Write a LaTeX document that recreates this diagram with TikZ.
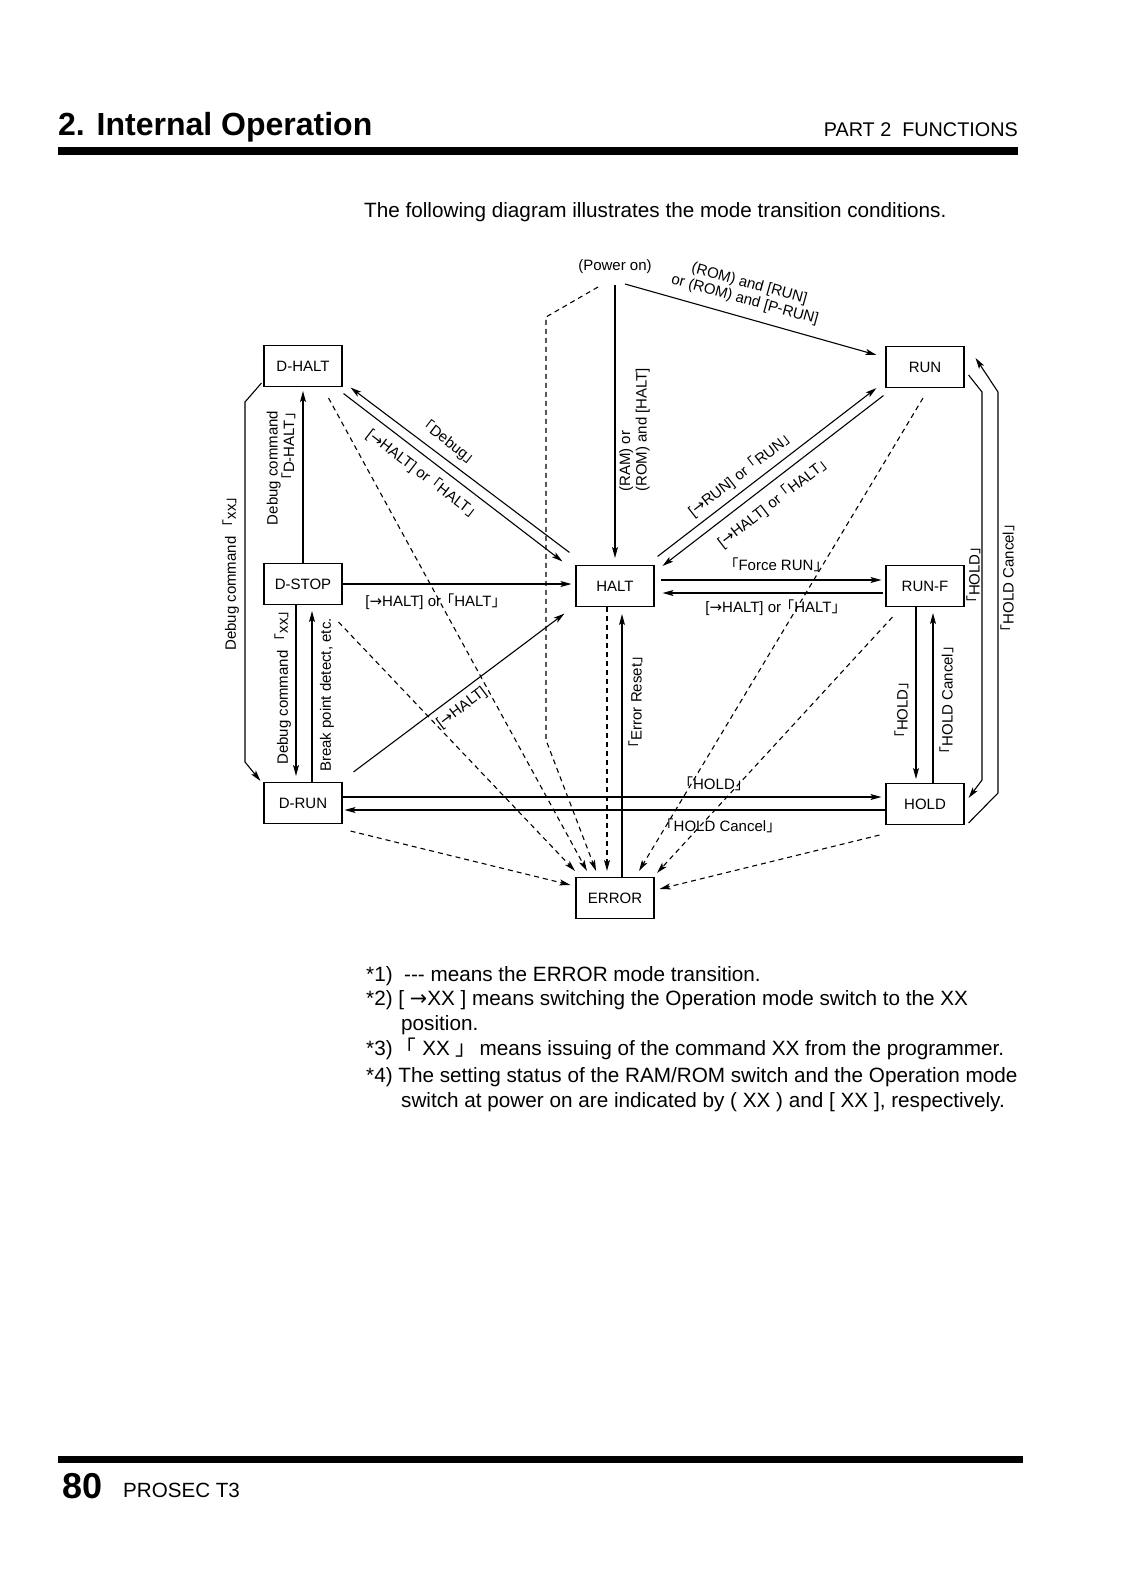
\documentclass[tikz,border=0pt]{standalone}
\usepackage{fontspec}
\setmainfont{Liberation Sans}
\newfontfamily\cjk{Noto Sans CJK JP}
\newfontfamily\dejavu{DejaVu Sans}
\usetikzlibrary{arrows.meta,calc}
\newcommand\lcb{\makebox[0.6em][r]{\cjk 「}}
\newcommand\rcb{\makebox[0.6em][l]{\cjk 」}}
\newcommand\rarr{{\dejavu →}}
\begin{document}
\begin{tikzpicture}[x=1pt,y=-1pt,
  box/.style={draw,line width=1.1pt,minimum width=78pt,minimum height=41pt,inner sep=0pt,font=\fontsize{15}{17}\selectfont},
  lbl/.style={font=\fontsize{15}{16.5}\selectfont,inner sep=1pt},
  conn/.style={line width=1.1pt},
  arr/.style={conn,-{Stealth[length=11pt,width=6pt,inset=2.5pt]}},
  dsh/.style={arr,dash pattern=on 5pt off 4pt},
  txt/.style={font=\fontsize{20.7}{24}\selectfont,inner sep=0pt,anchor=base west}
]
\useasboundingbox (0,0) rectangle (1120,1583);
\fill[white] (0,0) rectangle (1120,1583);

% header
\node[anchor=base west,inner sep=0pt,font=\fontsize{32}{36}\selectfont\bfseries] (title) at (58,135) {2. Internal Operation};
\node[anchor=base east,inner sep=0pt,font=\fontsize{19.8}{22}\selectfont] (part) at (1018,136) {PART 2\ \ FUNCTIONS};
\fill (58,147) rectangle (1018,155);
\node[txt] (intro) at (364,217) {The following diagram illustrates the mode transition conditions.};

% boxes
\node[box] (DHALT) at (303,366) {D-HALT};
\node[box] (RUN) at (925,367) {RUN};
\node[box] (DSTOP) at (303,584) {D-STOP};
\node[box] (HALT) at (615,586) {HALT};
\node[box] (RUNF) at (925,586) {RUN-F};
\node[box] (DRUN) at (303,803) {D-RUN};
\node[box] (HOLD) at (925,804) {HOLD};
\node[box] (ERROR) at (615,898) {ERROR};

% power on
\node[lbl] (PWR) at (615,267) {(Power on)};
\coordinate (p1) at (615,285);
\coordinate (p2) at (625,284);
\coordinate (p3) at (598,287);
\coordinate (p4) at (546,317);
\coordinate (p5) at (546,740);
\draw[arr] (p1) -- ($(HALT.north)+(0,-7)$);
\draw[arr] (p2) -- ($(RUN.north west)+(-9,9)$);
\node[lbl,rotate=-15.5,align=center] at (747,292) {(ROM) and [RUN]\\or (ROM) and [P-RUN]};
\node[lbl,rotate=90,align=left,anchor=north west] at (618,493) {(RAM) or\\(ROM) and [HALT]};

% D-HALT <-> HALT
\draw[arr] ($(HALT.north west)+(-6,-12.5)$) -- ($(DHALT.south east)+(8,0.5)$);
\draw[arr] ($(DHALT.south east)+(1,6.5)$) -- ($(HALT.north west)+(-13,-3.5)$);
\node[lbl,rotate=-37.5] at (449,442) {\lcb Debug\rcb};
\node[lbl,rotate=-37.5] at (422,474) {[\rarr HALT] or \lcb HALT\rcb};

% D-STOP -> HALT
\draw[arr] (DSTOP.east) -- ($(HALT.west)+(-4,-2)$);
\node[lbl] at (433,602) {[\rarr HALT] or \lcb HALT\rcb};

% D-STOP -> D-HALT
\draw[arr] (DSTOP.north) -- ($(DHALT.south)+(0,4)$);
\node[lbl,rotate=90,align=right] at (281,468) {Debug command\\\lcb D-HALT\rcb};

% D-HALT -> D-RUN (outer left)
\coordinate (l1) at (245,402);
\coordinate (l2) at (245,762);
\draw[arr] ($(DHALT.south west)+(-2,-4)$) -- (l1) -- (l2) -- ($(DRUN.north west)+(-3,-1)$);
\node[lbl,rotate=90] at (231,573) {Debug command\ \ \lcb xx\rcb};

% D-STOP <-> D-RUN
\draw[arr] ($(DSTOP.south)+(-7,0)$) -- ($(DRUN.north)+(-7,-6)$);
\draw[arr] ($(DRUN.north)+(9,0)$) -- ($(DSTOP.south)+(9,6)$);
\node[lbl,rotate=90] at (283,687) {Debug command\ \ \lcb xx\rcb};
\node[lbl,rotate=90] at (327,695) {Break point detect, etc.};

% D-RUN -> HALT
\draw[arr] ($(DRUN.north east)+(11,-10)$) -- ($(HALT.south west)+(-11,6.5)$);
\node[lbl,rotate=37] at (462,708) {[\rarr HALT]};

% D-RUN <-> HOLD
\draw[arr] ($(DRUN.east)+(0,-6)$) -- ($(HOLD.west)+(-4,-7)$);
\draw[arr] ($(HOLD.west)+(0,6)$) -- ($(DRUN.east)+(2,7)$);
\node[lbl] at (714,784) {\lcb HOLD\rcb};
\node[lbl] at (720,826) {\lcb HOLD Cancel\rcb};

% HALT <-> RUN
\draw[arr] ($(HALT.north east)+(3,-8.5)$) -- ($(RUN.south west)+(-9,0)$);
\draw[arr] ($(RUN.south west)+(-2,7.5)$) -- ($(HALT.north east)+(8,1)$);
\node[lbl,rotate=37.7] at (740,475) {[\rarr RUN] or \lcb RUN\rcb};
\node[lbl,rotate=37.7] at (773,503) {[\rarr HALT] or \lcb HALT\rcb};

% HALT <-> RUN-F
\draw[arr] ($(HALT.east)+(6,-6)$) -- ($(RUNF.west)+(-4,-6)$);
\draw[arr] ($(RUNF.west)+(-2,7)$) -- ($(HALT.east)+(8,7)$);
\node[lbl] at (776,565) {\lcb Force RUN\rcb};
\node[lbl] at (773,608) {[\rarr HALT] or \lcb HALT\rcb};

% RUN-F <-> HOLD
\draw[arr] ($(RUNF.south)+(-9,0)$) -- ($(HOLD.north)+(-9,-4)$);
\draw[arr] ($(HOLD.north)+(8,0)$) -- ($(RUNF.south)+(8,6)$);
\node[lbl,rotate=90] at (902,710) {\lcb HOLD\rcb};
\node[lbl,rotate=90] at (947,700) {\lcb HOLD Cancel\rcb};

% RUN <-> HOLD (right)
\coordinate (r1) at (982,392);
\coordinate (r2) at (982,780);
\coordinate (r3) at (998,793);
\coordinate (r4) at (998,392);
\draw[arr] ($(RUN.east)+(4,8)$) -- (r1) -- (r2) -- ($(HOLD.east)+(4,-6)$);
\draw[arr] ($(HOLD.east)+(4,19)$) -- (r3) -- (r4) -- ($(RUN.east)+(11,-9)$);
\node[lbl,rotate=90] at (974,575) {\lcb HOLD\rcb};
\node[lbl,rotate=90] at (1008,578) {\lcb HOLD Cancel\rcb};

% Error reset
\draw[arr] ($(ERROR.north)+(7,0)$) -- ($(HALT.south)+(7,7)$);
\node[lbl,rotate=90] at (636,702) {\lcb Error Reset\rcb};

% dashed error transitions
\draw[dsh] (p3) -- (p4) -- (p5) -- ($(ERROR.north)+(-19,-6)$);
\draw[dsh] ($(DHALT.south east)+(-14,11)$) -- ($(ERROR.north)+(-28,-6)$);
\draw[dsh] ($(DSTOP.south east)+(-4,17)$) -- ($(ERROR.north)+(-40,-6)$);
\draw[dsh] ($(HALT.south)+(-8,0)$) -- ($(ERROR.north)+(-8,-6)$);
\draw[dsh] ($(RUN.south)+(-2,10)$) -- ($(ERROR.north)+(24,-6)$);
\draw[dsh] ($(RUNF.south west)+(7,10)$) -- ($(ERROR.north)+(42,-4)$);
\draw[dsh] ($(DRUN.south east)+(8,7)$) -- ($(ERROR.west)+(-5,-13)$);
\draw[dsh] ($(HOLD.south west)+(-6,10)$) -- ($(ERROR.east)+(5,-9)$);

% notes
\node[txt] (n1) at (366,981) {*1)\ \ -{}-{}- means the ERROR mode transition.};
\node[txt] (n2) at (366,1005) {*2) [ \rarr XX ] means switching the Operation mode switch to the XX};
\node[txt] (n3) at (401,1030) {position.};
\node[txt] (n4) at (366,1055) {*3)\ \ \lcb\ XX \rcb\ \ means issuing of the command XX from the programmer.};
\node[txt] (n5) at (366,1082) {*4) The setting status of the RAM/ROM switch and the Operation mode};
\node[txt] (n6) at (401,1107) {switch at power on are indicated by ( XX ) and [ XX ], respectively.};

% footer
\fill (58,1456) rectangle (1023,1463);
\node[anchor=base west,inner sep=0pt,font=\fontsize{36}{40}\selectfont\bfseries] (pg) at (62,1498) {80};
\node[anchor=base west,inner sep=0pt,font=\fontsize{20.6}{22}\selectfont] (ft) at (123,1497) {PROSEC T3};
\end{tikzpicture}
\end{document}
